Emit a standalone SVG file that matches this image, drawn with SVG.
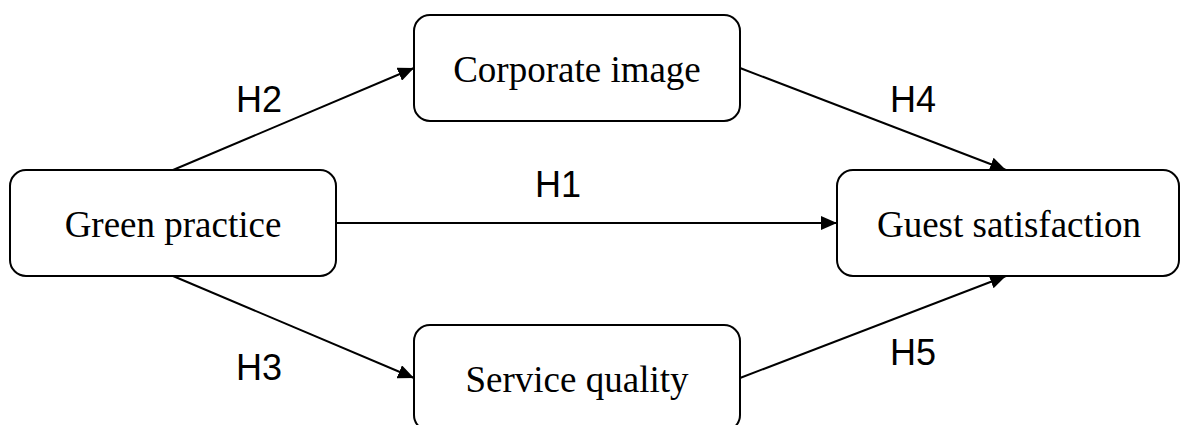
<svg xmlns="http://www.w3.org/2000/svg" width="1181" height="425" viewBox="0 0 1181 425">
<style>
.box{fill:#fff;stroke:#000;stroke-width:2}
.nt{font-family:"Liberation Serif","Times New Roman",serif;font-size:37px;text-anchor:middle;fill:#000}
.lb{font-family:"Liberation Sans",Arial,sans-serif;font-size:36px;text-anchor:middle;fill:#000}
.cn{stroke:#000;stroke-width:2;fill:none;marker-end:url(#ah)}
</style>
<defs>
<marker id="ah" markerUnits="userSpaceOnUse" markerWidth="16" markerHeight="14" viewBox="0 0 16 14" refX="16" refY="7" orient="auto">
<path d="M0,0 L16,7 L0,14 Z" fill="#000"/>
</marker>
</defs>
<g id="connectors">
<line class="cn" x1="173" y1="170" x2="414" y2="68"/>
<line class="cn" x1="173" y1="276" x2="414" y2="378"/>
<line class="cn" x1="336" y1="223" x2="837" y2="223"/>
<line class="cn" x1="740" y1="68" x2="1006" y2="170"/>
<line class="cn" x1="740" y1="378" x2="1006" y2="276"/>
<text class="lb" x="259" y="112">H2</text>
<text class="lb" x="259" y="380">H3</text>
<text class="lb" x="558" y="197">H1</text>
<text class="lb" x="913" y="112">H4</text>
<text class="lb" x="913" y="365">H5</text>
</g>
<g id="corporate-image">
<rect class="box" x="414" y="15" width="326" height="106" rx="16"/>
<text class="nt" x="577" y="82">Corporate image</text>
</g>
<g id="green-practice">
<rect class="box" x="10" y="170" width="326" height="106" rx="16"/>
<text class="nt" x="173" y="237">Green practice</text>
</g>
<g id="guest-satisfaction">
<rect class="box" x="837" y="170" width="342" height="106" rx="16"/>
<text class="nt" x="1009" y="237">Guest satisfaction</text>
</g>
<g id="service-quality">
<rect class="box" x="414" y="325" width="326" height="106" rx="16"/>
<text class="nt" x="577" y="392">Service quality</text>
</g>
</svg>
